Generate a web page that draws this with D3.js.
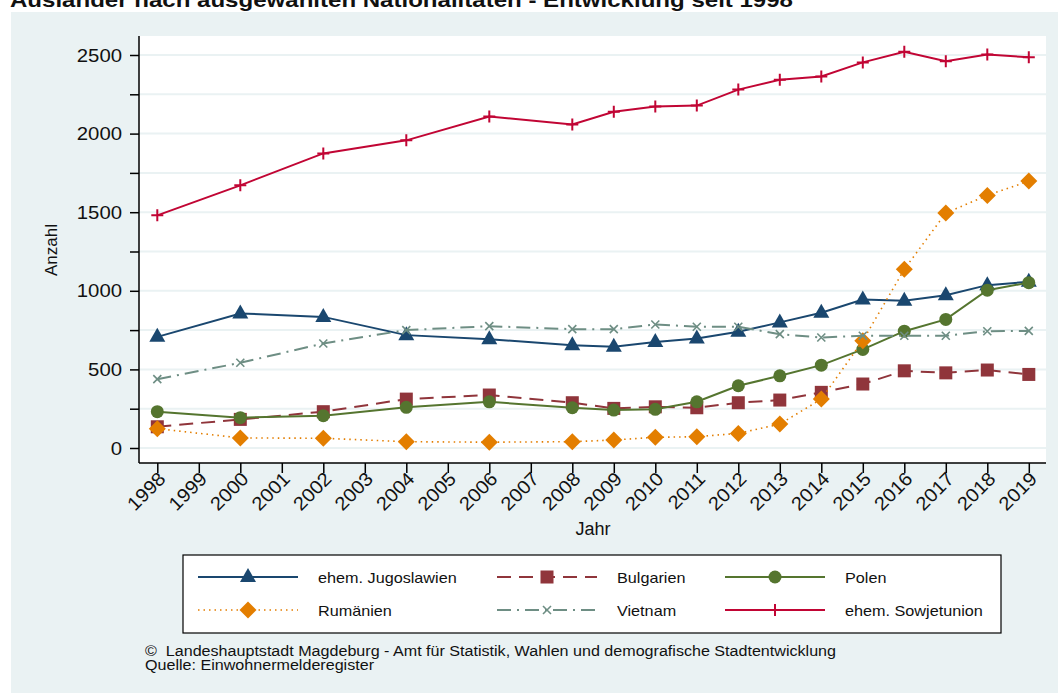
<!DOCTYPE html>
<html>
<head>
<meta charset="utf-8">
<script src="https://cdn.jsdelivr.net/npm/d3@7.9.0/dist/d3.min.js"></script>
<style>
  body { margin: 0; background: #fff; }
  svg { display: block; font-family: "Liberation Sans", Arial, sans-serif; }
</style>
</head>
<body>
<svg id="chart" width="1058" height="693"></svg>
<script>
// data
const years = [1998, 2000, 2002, 2004, 2006, 2008, 2009, 2010, 2011, 2012, 2013, 2014, 2015, 2016, 2017, 2018, 2019];
const jugoslawien = [707, 856, 834, 718, 692, 654, 644, 675, 697, 739, 799, 860, 945, 936, 972, 1036, 1057];
const bulgarien = [135, 182, 231, 311, 337, 288, 252, 262, 256, 288, 305, 354, 407, 491, 478, 496, 468];
const polen = [231, 193, 205, 259, 294, 256, 241, 246, 294, 396, 459, 527, 627, 743, 818, 1004, 1052];
const rumaenien = [123, 64, 62, 40, 37, 40, 51, 68, 72, 93, 152, 311, 683, 1137, 1495, 1607, 1698];
const vietnam = [438, 542, 665, 750, 775, 756, 756, 786, 771, 771, 724, 703, 714, 714, 714, 743, 745];
const sowjetunion = [1480, 1671, 1874, 1957, 2109, 2058, 2139, 2173, 2178, 2280, 2343, 2363, 2453, 2520, 2460, 2503, 2485];

const xTicks = d3.range(1998, 2020);
const yTicks = [0, 500, 1000, 1500, 2000, 2500];

const series = [
  { name: 'ehem. Jugoslawien', values: jugoslawien, color: '#1a476f', dash: null, width: 2, marker: 'triangle' },
  { name: 'Bulgarien', values: bulgarien, color: '#90353b', dash: '14,8', width: 2, marker: 'square' },
  { name: 'Polen', values: polen, color: '#55752f', dash: null, width: 2, marker: 'circle' },
  { name: 'Rumänien', values: rumaenien, color: '#e37e00', dash: '1.5,4', width: 1.6, marker: 'diamond' },
  { name: 'Vietnam', values: vietnam, color: '#6e8e84', dash: '14,6,2,6', width: 2, marker: 'x' },
  { name: 'ehem. Sowjetunion', values: sowjetunion, color: '#c10534', dash: null, width: 2, marker: 'plus' },
];

const svg = d3.select('#chart');

// the source font runs a bit wider than Liberation Sans, so stretch texts
function stretch(sel, k) {
  sel.each(function () {
    const w = this.getComputedTextLength();
    if (w > 0) d3.select(this).attr('textLength', w * k).attr('lengthAdjust', 'spacingAndGlyphs');
  });
}

// background panel
svg.append('rect').attr('x', 11).attr('y', 12).attr('width', 1047).attr('height', 681).attr('fill', '#eaf2f3');

svg.append('text')
  .attr('x', 10).attr('y', 7)
  .attr('font-size', 20).attr('font-weight', 'bold').attr('fill', '#111')
  .attr('textLength', 783).attr('lengthAdjust', 'spacingAndGlyphs')
  .text('Ausländer nach ausgewählten Nationalitäten - Entwicklung seit 1998');

const plot = { left: 139, right: 1046, top: 36, bottom: 463 };

svg.append('rect')
  .attr('x', plot.left).attr('y', plot.top)
  .attr('width', plot.right - plot.left).attr('height', plot.bottom - plot.top)
  .attr('fill', '#fff');

const x = d3.scaleLinear().domain([1998, 2019]).range([157.3, 1028.8]);
const y = d3.scaleLinear().domain([0, 2500]).range([448, 55]);

// grid every 250
svg.append('g')
  .selectAll('line')
  .data(d3.range(0, 2501, 250))
  .join('line')
  .attr('x1', plot.left).attr('x2', plot.right)
  .attr('y1', d => y(d)).attr('y2', d => y(d))
  .attr('stroke', '#eaf2f3').attr('stroke-width', 2);

// y axis
const yAxis = svg.append('g')
  .attr('transform', `translate(${plot.left},0)`)
  .call(d3.axisLeft(y).tickValues(d3.range(0, 2501, 250)).tickSize(9)
    .tickFormat(d => yTicks.includes(d) ? d : ''));
yAxis.select('.domain').attr('d', `M0,${plot.top}V${plot.bottom}`).attr('stroke', '#000').attr('stroke-width', 1.5);
yAxis.selectAll('.tick line').attr('stroke', '#000').attr('stroke-width', 1.5);
yAxis.selectAll('.tick text').attr('font-size', 19).attr('fill', '#111').attr('x', -17)
  .attr('font-family', '"Liberation Sans", Arial, sans-serif')
  .call(stretch, 1.07);

// x axis
const xAxis = svg.append('g')
  .attr('transform', `translate(0,${plot.bottom})`)
  .call(d3.axisBottom(x).tickValues(xTicks).tickSize(10).tickFormat(d3.format('d')));
xAxis.select('.domain').attr('d', `M${plot.left},0H${plot.right}`).attr('stroke', '#000').attr('stroke-width', 1.5);
xAxis.selectAll('.tick line').attr('stroke', '#000').attr('stroke-width', 1.5);
xAxis.selectAll('.tick text')
  .attr('font-size', 19).attr('fill', '#111')
  .attr('font-family', '"Liberation Sans", Arial, sans-serif')
  .attr('text-anchor', 'end').attr('dy', null)
  .attr('x', 0).attr('y', 0)
  .attr('transform', 'translate(9,17) rotate(-45)')
  .call(stretch, 1.06);

svg.append('text').attr('x', 593).attr('y', 535).attr('text-anchor', 'middle')
  .attr('font-size', 18).attr('fill', '#111').text('Jahr');
svg.append('text').attr('transform', 'translate(57,250) rotate(-90)').attr('text-anchor', 'middle')
  .attr('font-size', 17).attr('fill', '#111').text('Anzahl');

// marker drawing
function drawMarker(g, type, cx, cy, color) {
  if (type === 'triangle') {
    g.append('path').attr('d', `M${cx},${cy - 9}L${cx + 8},${cy + 5}L${cx - 8},${cy + 5}Z`).attr('fill', color);
  } else if (type === 'square') {
    g.append('rect').attr('x', cx - 6.5).attr('y', cy - 6.5).attr('width', 13).attr('height', 13).attr('fill', color);
  } else if (type === 'circle') {
    g.append('circle').attr('cx', cx).attr('cy', cy).attr('r', 6.5).attr('fill', color);
  } else if (type === 'diamond') {
    g.append('path').attr('d', `M${cx},${cy - 8.5}L${cx + 8.5},${cy}L${cx},${cy + 8.5}L${cx - 8.5},${cy}Z`).attr('fill', color);
  } else if (type === 'x') {
    g.append('path').attr('d', `M${cx - 4},${cy - 4}L${cx + 4},${cy + 4}M${cx - 4},${cy + 4}L${cx + 4},${cy - 4}`)
      .attr('stroke', color).attr('stroke-width', 1.6);
  } else if (type === 'plus') {
    g.append('path').attr('d', `M${cx - 6},${cy}L${cx + 6},${cy}M${cx},${cy - 6}L${cx},${cy + 6}`)
      .attr('stroke', color).attr('stroke-width', 2);
  }
}

const line = d3.line().x(d => x(d[0])).y(d => y(d[1]));

series.forEach(s => {
  const pts = years.map((yr, i) => [yr, s.values[i]]);
  const g = svg.append('g');
  g.append('path')
    .attr('d', line(pts))
    .attr('fill', 'none')
    .attr('stroke', s.color)
    .attr('stroke-width', s.width)
    .attr('stroke-dasharray', s.dash);
  pts.forEach(p => drawMarker(g, s.marker, x(p[0]), y(p[1]), s.color));
});

// legend
const legend = svg.append('g');
legend.append('rect').attr('x', 183).attr('y', 555).attr('width', 818).attr('height', 78)
  .attr('fill', '#fff').attr('stroke', '#000').attr('stroke-width', 1.2);

const colX = [198, 497, 725];
const rowY = [577, 610];
series.forEach((s, i) => {
  const lx = colX[i % 3];
  const ly = rowY[Math.floor(i / 3)];
  legend.append('line')
    .attr('x1', lx).attr('x2', lx + 100).attr('y1', ly).attr('y2', ly)
    .attr('stroke', s.color).attr('stroke-width', s.width)
    .attr('stroke-dasharray', s.dash);
  drawMarker(legend, s.marker, lx + 50, ly, s.color);
  legend.append('text').attr('x', lx + 120).attr('y', ly + 5.5)
    .attr('font-size', 15).attr('fill', '#111').text(s.name)
    .call(stretch, 1.08);
});

// footer
svg.append('text').attr('x', 145).attr('y', 656).attr('font-size', 14).attr('fill', '#111')
  .style('white-space', 'pre')
  .attr('textLength', 691).attr('lengthAdjust', 'spacingAndGlyphs')
  .text('©  Landeshauptstadt Magdeburg - Amt für Statistik, Wahlen und demografische Stadtentwicklung');
svg.append('text').attr('x', 145).attr('y', 670).attr('font-size', 14).attr('fill', '#111')
  .attr('textLength', 229).attr('lengthAdjust', 'spacingAndGlyphs')
  .text('Quelle: Einwohnermelderegister');
</script>
</body>
</html>
